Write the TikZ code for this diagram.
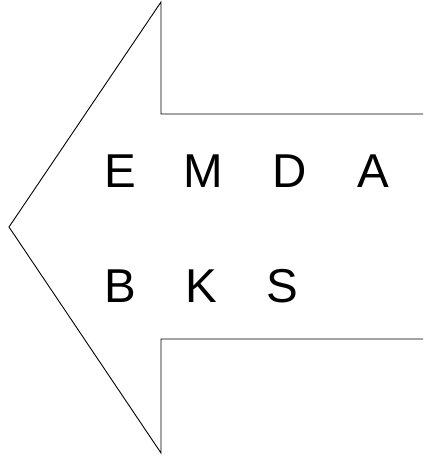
\documentclass[tikz,border=0pt]{standalone}
\usepackage{fontspec}
\setmainfont{Liberation Sans}
\usepackage{tikz}

\begin{document}
\begin{tikzpicture}[x=1pt, y=-1pt,
    letter/.style={anchor=base west, inner sep=0pt, font=\fontsize{47.5}{50}\selectfont}]
  \useasboundingbox (0,0) rectangle (423,457);
  % ---- the arrow, open on the right ----
  \coordinate (tip) at (9,227);
  \coordinate (headtop) at (161,2);
  \coordinate (headbot) at (161,453);
  \draw[line width=0.9pt, line join=miter]
    (423,114) -- (161,114) -- (headtop) -- (tip) -- (headbot) -- (161,339) -- (423,339);
  % ---- letters ----
  \node[letter] (e) at (104,187) {E};
  \node[letter] (m) at (183.5,187) {M};
  \node[letter] (d) at (272,187) {D};
  \node[letter] (a) at (357,187) {A};
  \node[letter] (b) at (104,302) {B};
  \node[letter] (k) at (185,302) {K};
  \node[letter] (s) at (266,302) {S};
\end{tikzpicture}
\end{document}
